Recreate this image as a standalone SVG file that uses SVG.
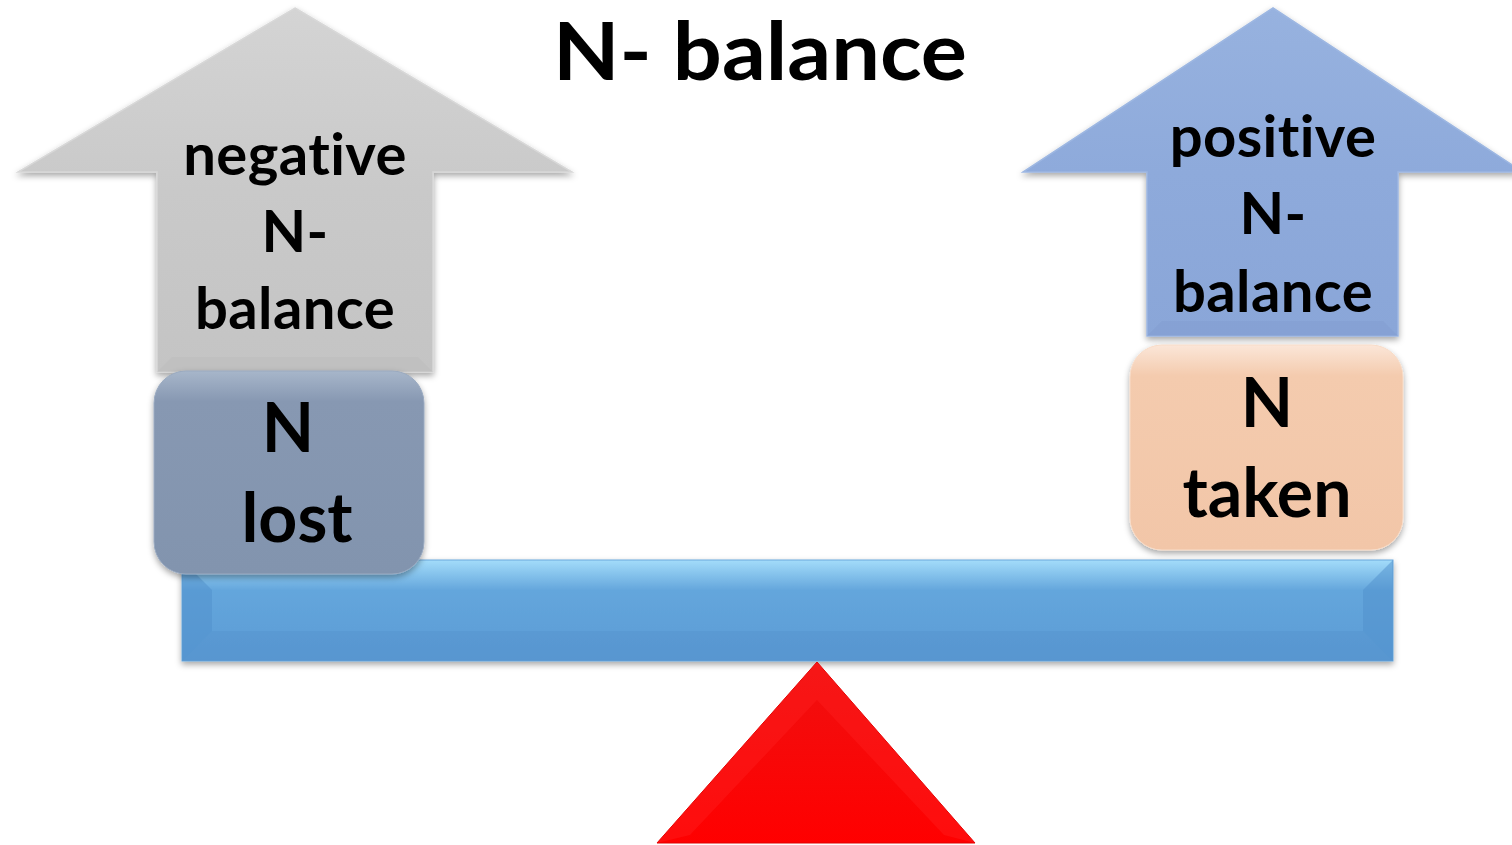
<svg xmlns="http://www.w3.org/2000/svg" width="1512" height="845" viewBox="0 0 1512 845">
<style>
.t{font-family:Lato,"Open Sans","Liberation Sans",sans-serif;font-weight:700;fill:#000;text-anchor:middle;font-variant-ligatures:none;font-feature-settings:"liga" 0,"clig" 0,"dlig" 0,"calt" 0,"hlig" 0}
.title{font-size:80px}
.arr{font-size:58px;letter-spacing:0.4px}
.box{font-size:68px}
</style>
<defs>
<filter id="sh" x="-10%" y="-10%" width="120%" height="130%">
<feDropShadow dx="0" dy="3" stdDeviation="3" flood-color="#000" flood-opacity="0.35"/>
</filter>
<linearGradient id="gGray" x1="0" y1="0" x2="0" y2="1">
<stop offset="0" stop-color="#d4d4d4"/>
<stop offset="0.5" stop-color="#c9c9c9"/>
<stop offset="1" stop-color="#c4c4c4"/>
</linearGradient>
<linearGradient id="gBlueArr" x1="0" y1="0" x2="0" y2="1">
<stop offset="0" stop-color="#97b2df"/>
<stop offset="0.5" stop-color="#8eaadb"/>
<stop offset="1" stop-color="#8aa6d8"/>
</linearGradient>
<linearGradient id="gLost" x1="0" y1="0" x2="0" y2="1">
<stop offset="0" stop-color="#a7b6ca"/>
<stop offset="0.15" stop-color="#8798b2"/>
<stop offset="1" stop-color="#8294ae"/>
</linearGradient>
<linearGradient id="gTaken" x1="0" y1="0" x2="0" y2="1">
<stop offset="0" stop-color="#fbe6d8"/>
<stop offset="0.15" stop-color="#f4cbae"/>
<stop offset="1" stop-color="#f2c6a8"/>
</linearGradient>
<linearGradient id="gBeam" x1="0" y1="0" x2="0" y2="1">
<stop offset="0" stop-color="#a3dcfa"/>
<stop offset="0.3" stop-color="#64a6dc"/>
<stop offset="1" stop-color="#5b9bd5"/>
</linearGradient>
<linearGradient id="gRed" x1="0" y1="0" x2="0" y2="1">
<stop offset="0" stop-color="#f01010"/>
<stop offset="1" stop-color="#ff0000"/>
</linearGradient>
</defs>

<g id="title">
<text class="t title" x="760" y="80" textLength="414" lengthAdjust="spacingAndGlyphs">N- balance</text>
</g>

<g id="negative-arrow">
<polygon points="295,8 572,172 433,172 433,372 157,372 157,172 18,172" fill="url(#gGray)" stroke="#d8d8d8" stroke-width="1.5" filter="url(#sh)"/>
<polygon points="157,372 172,357 418,357 433,372" fill="#bcbcbc" opacity="0.5"/>
<text class="t arr" x="295" y="175">negative</text>
<text class="t arr" x="295" y="252">N-</text>
<text class="t arr" x="295" y="329">balance</text>
</g>

<g id="positive-arrow">
<polygon points="1273,8 1523,172 1398,172 1398,336 1147,336 1147,172 1023,172" fill="url(#gBlueArr)" stroke="#9db7e2" stroke-width="1.5" filter="url(#sh)"/>
<polygon points="1147,336 1162,321 1383,321 1398,336" fill="#7f9bcf" opacity="0.4"/>
<text class="t arr" x="1273" y="157">positive</text>
<text class="t arr" x="1273" y="234">N-</text>
<text class="t arr" x="1273" y="312">balance</text>
</g>

<g id="beam">
<rect x="182" y="560" width="1211" height="101" fill="url(#gBeam)" stroke="#6aa7dc" stroke-width="1" filter="url(#sh)"/>
<polygon points="182,560 212,590 212,631 182,661" fill="#4f8fcb" opacity="0.5"/>
<polygon points="1393,560 1363,590 1363,631 1393,661" fill="#4f8fcb" opacity="0.5"/>
<polygon points="182,661 212,631 1363,631 1393,661" fill="#4a88c4" opacity="0.25"/>
</g>

<g id="n-lost">
<rect x="154" y="371" width="270" height="203" rx="32" fill="url(#gLost)" stroke="#9aaac0" stroke-width="1" filter="url(#sh)"/>
<text class="t box" x="288" y="452">N</text>
<text class="t box" x="297" y="542">lost</text>
</g>

<g id="n-taken">
<rect x="1130" y="345" width="273" height="205" rx="32" fill="url(#gTaken)" stroke="#f8dcc8" stroke-width="1" filter="url(#sh)"/>
<text class="t box" x="1267" y="427">N</text>
<text class="t box" x="1267" y="517">taken</text>
</g>

<g id="fulcrum">
<polygon points="817,662 975,843 657,843" fill="url(#gRed)" stroke="#e00000" stroke-width="1"/>
<polygon points="817,662 817,700 690,835 657,843" fill="#ff2020" opacity="0.4"/>
<polygon points="817,662 817,700 944,835 975,843" fill="#ff2020" opacity="0.4"/>
</g>
</svg>
